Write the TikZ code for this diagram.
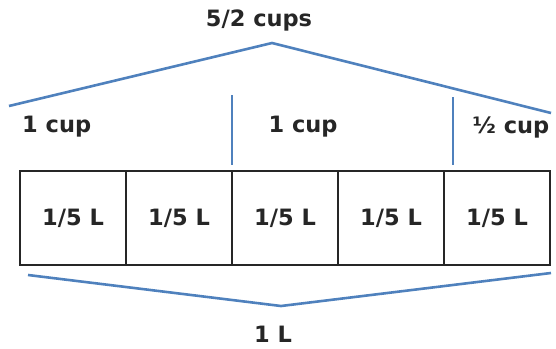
\documentclass[tikz,border=0pt]{standalone}
\usepackage{fontspec}
\setmainfont{DejaVu Sans}
\begin{document}
\begin{tikzpicture}[x=1pt,y=-1pt,
  cell/.style={draw=black!85,line width=2.8pt,minimum width=106pt,minimum height=94pt,
    inner sep=0pt,font=\fontsize{22.5}{26}\selectfont\bfseries,text=black!85},
  lbl/.style={inner sep=0pt,font=\fontsize{22.5}{26}\selectfont\bfseries,text=black!85},
  brace/.style={draw=blue2,line width=2.6pt},
  ]
\definecolor{blue2}{RGB}{79,129,189}
\useasboundingbox (0,0) rectangle (556,348);
% five equal parts of one litre
\foreach \i in {1,...,5}{
  \node[cell] (c\i) at ({20+106*(\i-0.5)},218) {1/5 L};
}
% top grouping lines
\coordinate (tl) at (9,106);
\coordinate (ta) at (272,43);
\coordinate (tr) at (551,113);
\draw[brace] (tl) -- (ta) -- (tr);
\coordinate (v1t) at (232,95);
\coordinate (v1b) at (232,165);
\coordinate (v2t) at (453,97);
\coordinate (v2b) at (453,165);
\draw[brace] (v1t) -- (v1b);
\draw[brace] (v2t) -- (v2b);
% bottom grouping line
\coordinate (bl) at (28,275);
\coordinate (ba) at (281,306);
\coordinate (br) at (551,273);
\draw[brace] (bl) -- (ba) -- (br);
% labels
\node[lbl] (total) at (259,20) {5/2 cups};
\node[lbl,anchor=west] (cupa) at (22,127) {1 cup};
\node[lbl] (cupb) at (303,127) {1 cup};
\node[lbl] (cupc) at (511,127) {½ cup};
\node[lbl] (litre) at (273,334) {1 L};
\end{tikzpicture}
\end{document}
